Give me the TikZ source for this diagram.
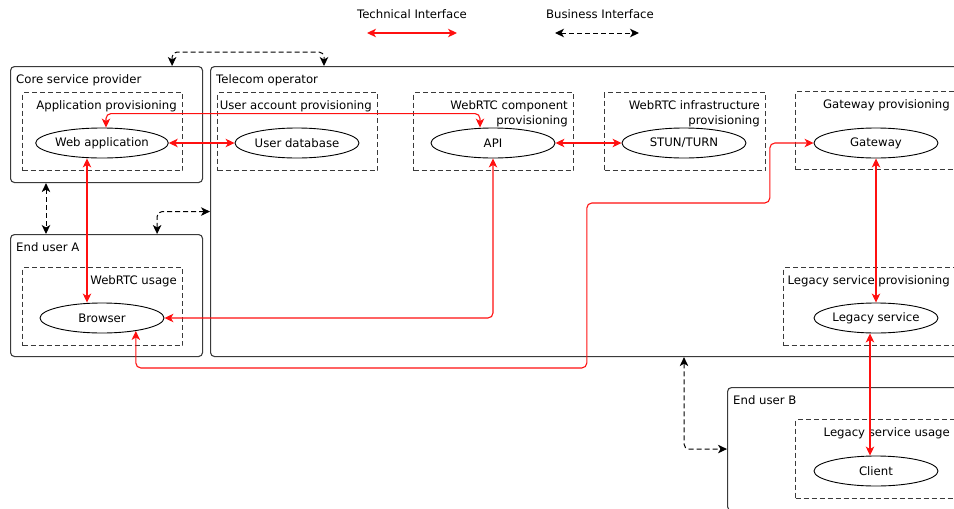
\documentclass[tikz,border=0pt]{standalone}
\usepackage{fontspec}
\setmainfont{DejaVu Sans}
\usetikzlibrary{arrows.meta,shapes.geometric}
\definecolor{techred}{HTML}{FF1010}
\definecolor{frame}{HTML}{3A3A3A}
\begin{document}
\begin{tikzpicture}[x=1pt,y=-1pt,
  font=\fontsize{11.7}{15}\selectfont,
  >={Stealth[length=9pt,width=8.5pt,inset=2.5pt]},
  group/.style={draw=frame, line width=1.1pt, rounded corners=4pt, inner sep=0pt, anchor=north west},
  area/.style={draw=frame, line width=1pt, dash pattern=on 5pt off 3pt, inner sep=0pt, anchor=north west},
  comp/.style={ellipse, draw=black, line width=0.9pt, minimum width=124pt, minimum height=30pt, inner sep=0pt},
  grouptitle/.style={anchor=base west, inner sep=0pt},
  arealabel/.style={anchor=base east, inner sep=0pt, align=right},
  tech/.style={draw=techred, line width=1.1pt, <->, rounded corners=5pt},
  biz/.style={draw=black, line width=1pt, dash pattern=on 5pt off 3pt, <->, rounded corners=5pt}]
\useasboundingbox (0,0) rectangle (954,509);
\clip (0,0) rectangle (954,509);

% legend
\node (techlegend) at (412,14) {Technical Interface};
\node (bizlegend) at (600,14) {Business Interface};
\coordinate (techA) at (367,33);
\coordinate (techB) at (457,33);
\coordinate (bizA) at (555,33);
\coordinate (bizB) at (639,33);

% stakeholders
\node[group, minimum width=192pt, minimum height=116pt] (csp) at (10,66) {};
\node[group, minimum width=760pt, minimum height=290pt] (telecom) at (210,66) {};
\node[group, minimum width=192pt, minimum height=122pt] (eua) at (10,234) {};
\node[group, minimum width=240pt, minimum height=123pt] (eub) at (727,387) {};
\node[grouptitle] (csptitle) at ([xshift=6pt,yshift=-17.5pt]csp.north west) {Core service provider};
\node[grouptitle] (telecomtitle) at ([xshift=6pt,yshift=-17.5pt]telecom.north west) {Telecom operator};
\node[grouptitle] (euatitle) at ([xshift=6pt,yshift=-17.5pt]eua.north west) {End user A};
\node[grouptitle] (eubtitle) at ([xshift=6pt,yshift=-17.5pt]eub.north west) {End user B};

% roles
\node[area, minimum width=160pt, minimum height=78pt] (appprov) at (22,92) {};
\node[area, minimum width=160pt, minimum height=78pt] (userprov) at (217,92) {};
\node[area, minimum width=160pt, minimum height=78pt] (compprov) at (413,92) {};
\node[area, minimum width=161pt, minimum height=78pt] (infraprov) at (604,92) {};
\node[area, minimum width=160pt, minimum height=78pt] (gwprov) at (795,91) {};
\node[area, minimum width=172pt, minimum height=78pt] (legprov) at (783,267) {};
\node[area, minimum width=160pt, minimum height=78pt] (webrtcuse) at (22,267) {};
\node[area, minimum width=160pt, minimum height=79pt] (leguse) at (795,419) {};

\node[arealabel] (appprovlabel) at ([xshift=-6pt,yshift=-17.5pt]appprov.north east) {Application provisioning};
\node[arealabel] (userprovlabel) at ([xshift=-6pt,yshift=-17.5pt]userprov.north east) {User account provisioning};
\node[arealabel, anchor=north east] (compprovlabel) at ([xshift=-6pt,yshift=-8.5pt]compprov.north east) {WebRTC component\\provisioning};
\node[arealabel, anchor=north east] (infraprovlabel) at ([xshift=-6pt,yshift=-8.5pt]infraprov.north east) {WebRTC infrastructure\\provisioning};
\node[arealabel] (gwprovlabel) at ([xshift=-6pt,yshift=-17.5pt]gwprov.north east) {Gateway provisioning};
\node[arealabel] (legprovlabel) at ([xshift=-6pt,yshift=-17.5pt]legprov.north east) {Legacy service provisioning};
\node[arealabel] (webrtcuselabel) at ([xshift=-6pt,yshift=-17.5pt]webrtcuse.north east) {WebRTC usage};
\node[arealabel] (leguselabel) at ([xshift=-6pt,yshift=-17.5pt]leguse.north east) {Legacy service usage};

% components
\node[comp] (webapp) at (102,143) {Web application};
\node[comp] (userdb) at (297,143) {User database};
\node[comp] (api) at (493,143) {API};
\node[comp] (stun) at (684,143) {STUN/TURN};
\node[comp] (gateway) at (876,143) {Gateway};
\node[comp] (browser) at (102,318) {Browser};
\node[comp] (legacy) at (876,318) {Legacy service};
\node[comp] (client) at (876,471) {Client};

% business interfaces
\draw[biz] (bizA) -- (bizB);
\draw[biz] ([xshift=-31pt]csp.north east) -- ++(0,-14) -| ([xshift=114pt]telecom.north west);
\draw[biz] ([xshift=36pt]csp.south west) -- ([xshift=36pt]eua.north west);
\draw[biz] ([xshift=-46pt]eua.north east) |- (telecom.west);
\draw[biz] ([xshift=474pt]telecom.south west) |- (eub.west);

% technical interfaces
\draw[tech] (techA) -- (techB);
\draw[tech] (webapp) -- (userdb);
\draw[tech] (api) -- (stun);
\draw[tech] ([xshift=4pt]webapp.north) -- ++(0,-14) -| ([xshift=-13pt]api.north);
\draw[tech] ([xshift=-15pt]webapp.south) -- ([xshift=-15pt]browser.north);
\draw[tech] (api.south) |- (browser.east);
\draw[tech] (browser.-21) -- ++(0,37) -- ++(451,0) -- ++(0,-165) -- ++(183,0) |- (gateway.west);
\draw[tech] (gateway) -- (legacy);
\draw[tech] ([xshift=-6pt]legacy.south) -- ([xshift=-6pt]client.north);
\end{tikzpicture}
\end{document}
